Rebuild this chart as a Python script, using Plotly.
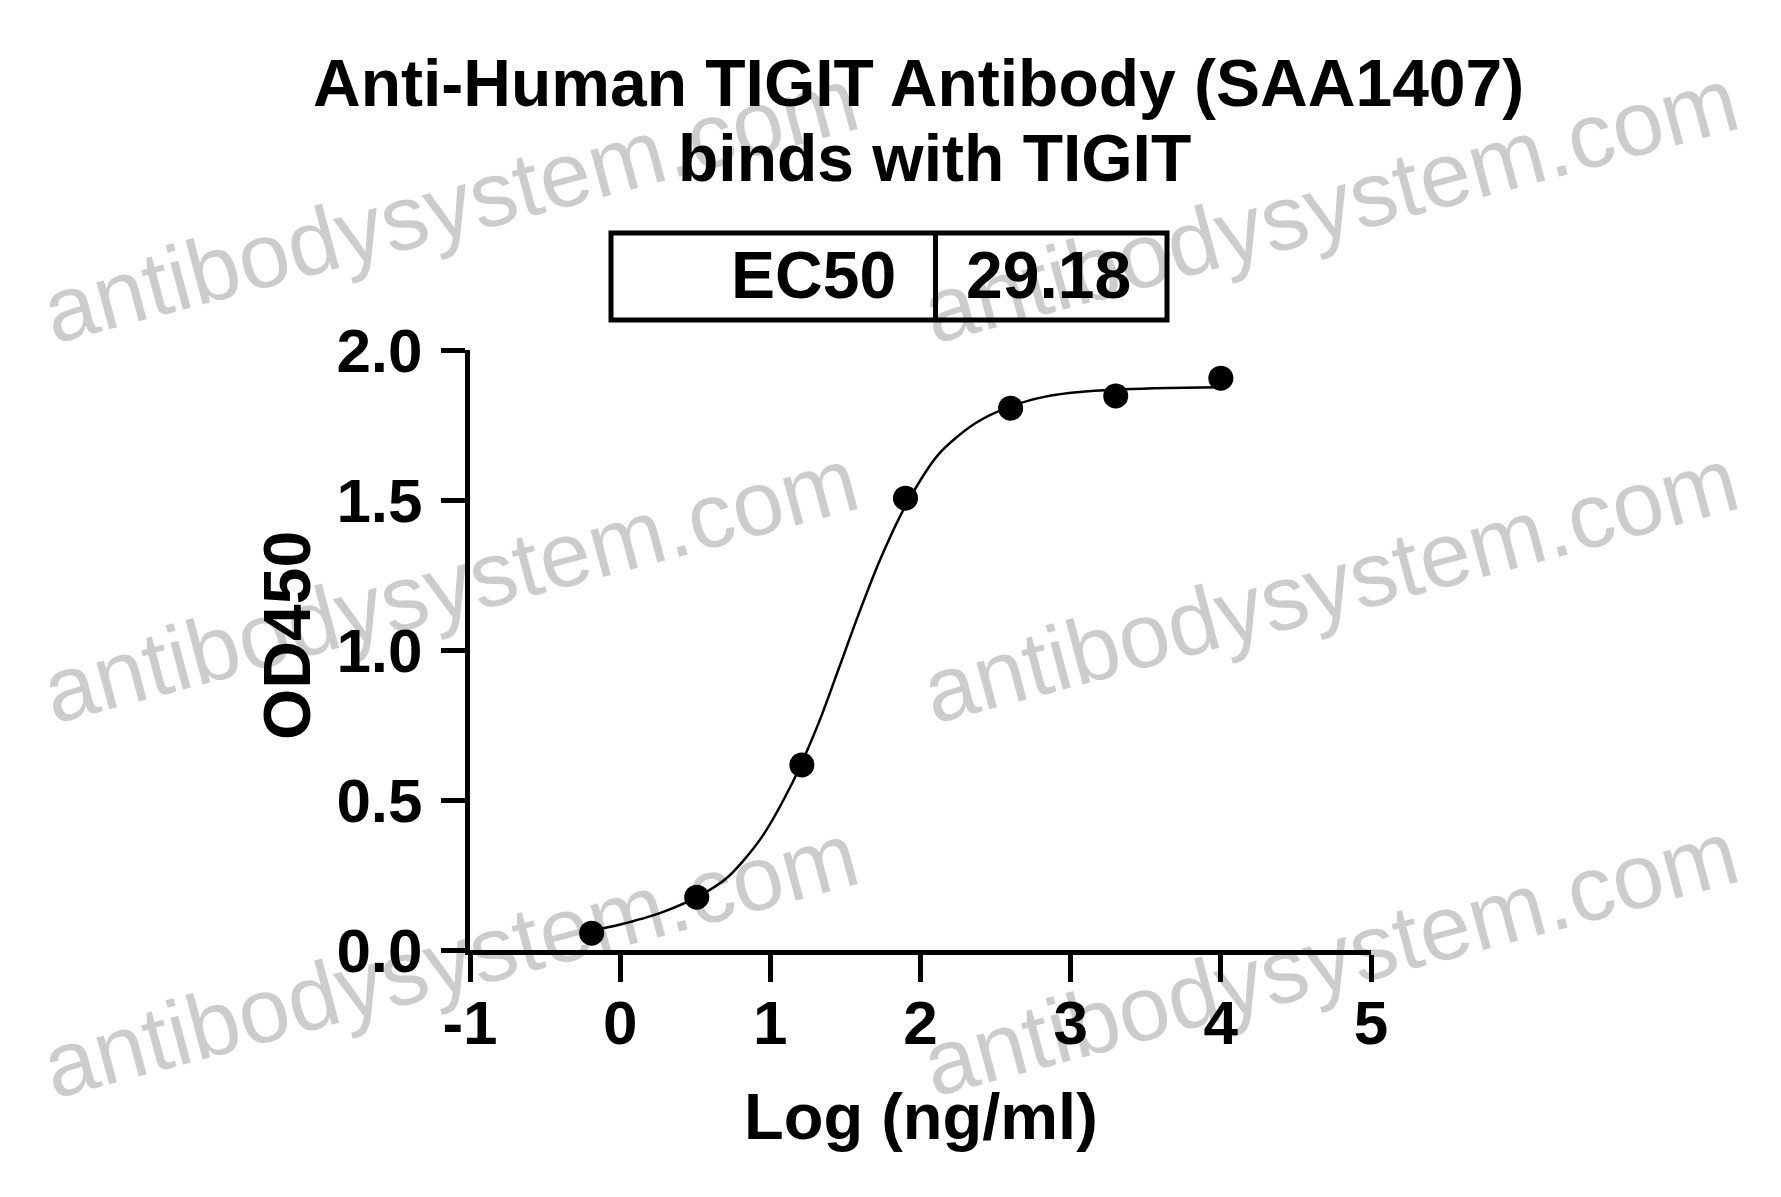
import plotly.graph_objects as go

# ---- data ----
log_conc = [-0.19, 0.51, 1.21, 1.90, 2.60, 3.30, 4.00]
od450 = [0.056, 0.176, 0.617, 1.506, 1.806, 1.847, 1.906]

curve_x = [-0.19, 0.00, 0.26, 0.51, 0.71, 0.93, 1.15, 1.33, 1.46, 1.59,
           1.73, 1.90, 2.12, 2.36, 2.60, 2.87, 3.30, 4.00]
curve_y = [0.064, 0.085, 0.122, 0.176, 0.240, 0.367, 0.561, 0.767, 0.944, 1.122,
           1.300, 1.480, 1.652, 1.754, 1.812, 1.848, 1.868, 1.876]

x_tick_vals = [-1, 0, 1, 2, 3, 4, 5]
x_tick_labels = ["-1", "0", "1", "2", "3", "4", "5"]
y_tick_vals = [0.0, 0.5, 1.0, 1.5, 2.0]
y_tick_labels = ["0.0", "0.5", "1.0", "1.5", "2.0"]

title_lines = ["Anti-Human TIGIT Antibody (SAA1407)", "binds with TIGIT"]
ec50_label = "EC50"
ec50_value = "29.18"
x_title = "Log (ng/ml)"
y_title = "OD450"
watermark = "antibodysystem.com"

# ---- layout geometry (page pixels) ----
W, H = 1781, 1197
OFF = 8  # default body margin of the html page
L, R, T, B = 470, 1371, 350, 950
FONT = "Arial, Liberation Sans, Helvetica, sans-serif"


def px(x):
    return (x - L) / (R - L)


def py(y):
    return (B - y) / (B - T)


fig = go.Figure()
fig.add_trace(go.Scatter(x=curve_x, y=curve_y, mode="lines",
                         line=dict(color="black", width=2.5, shape="spline", smoothing=0.8),
                         hoverinfo="skip", showlegend=False, cliponaxis=False))
fig.add_trace(go.Scatter(x=log_conc, y=od450, mode="markers",
                         marker=dict(color="black", size=25),
                         showlegend=False, cliponaxis=False))

annotations = []
# watermarks
wm_centers = [(450, 205), (1330, 205), (450, 585), (1330, 585), (450, 960), (1330, 958)]
for cx, cy in wm_centers:
    annotations.append(dict(text=watermark, x=px(cx), y=py(cy), xref="paper", yref="paper",
                            showarrow=False, textangle=-15, xanchor="center", yanchor="middle",
                            font=dict(family=FONT, size=92, color="rgba(0,0,0,0.2)")))
bold = dict(family=FONT, color="black", weight="bold")
# title
annotations.append(dict(text=title_lines[0], x=px(918), y=py(83), xref="paper", yref="paper",
                        showarrow=False, xanchor="center", yanchor="middle",
                        font=dict(size=66, **bold)))
annotations.append(dict(text=title_lines[1], x=px(934), y=py(158), xref="paper", yref="paper",
                        showarrow=False, xanchor="center", yanchor="middle",
                        font=dict(size=66, **bold)))
# EC50 box texts
annotations.append(dict(text=ec50_label, x=px(898), y=py(275), xref="paper", yref="paper",
                        showarrow=False, xanchor="right", yanchor="middle",
                        font=dict(size=66, **bold)))
annotations.append(dict(text=ec50_value, x=px(1048), y=py(275), xref="paper", yref="paper",
                        showarrow=False, xanchor="center", yanchor="middle",
                        font=dict(size=66, **bold)))
# axis titles
annotations.append(dict(text=x_title, x=px(921), y=py(1116), xref="paper", yref="paper",
                        showarrow=False, xanchor="center", yanchor="middle",
                        font=dict(size=65, **bold)))
annotations.append(dict(text=y_title, x=px(287), y=py(636), xref="paper", yref="paper",
                        showarrow=False, textangle=-90, xanchor="center", yanchor="middle",
                        font=dict(size=66, **bold)))

shapes = [
    dict(type="rect", xref="paper", yref="paper", x0=px(611), x1=px(1167), y0=py(320), y1=py(233),
         line=dict(color="black", width=5), fillcolor="rgba(0,0,0,0)", layer="below"),
    dict(type="line", xref="paper", yref="paper", x0=px(935.5), x1=px(935.5), y0=py(320), y1=py(233),
         line=dict(color="black", width=5)),
]

fig.update_layout(
    width=W - 2 * OFF, height=H - 2 * OFF,
    margin=dict(l=L - OFF, r=W - R - OFF, t=T - OFF, b=H - B - OFF, pad=0),
    paper_bgcolor="white", plot_bgcolor="white",
    annotations=annotations, shapes=shapes,
    showlegend=False,
)
fig.update_xaxes(range=[-1, 5], tickmode="array", tickvals=x_tick_vals, ticktext=x_tick_labels,
                 showgrid=False, zeroline=False, showline=True, linecolor="black", linewidth=5,
                 ticks="outside", ticklen=27, tickwidth=5, tickcolor="black",
                 tickfont=dict(size=62, **bold),
                 ticklabelstandoff=-12)
fig.update_yaxes(range=[0, 2], tickmode="array", tickvals=y_tick_vals, ticktext=y_tick_labels,
                 showgrid=False, zeroline=False, showline=True, linecolor="black", linewidth=5,
                 ticks="outside", ticklen=24, tickwidth=5, tickcolor="black",
                 tickfont=dict(size=62, **bold),
                 ticklabelstandoff=6)

fig.write_html("out.html")
